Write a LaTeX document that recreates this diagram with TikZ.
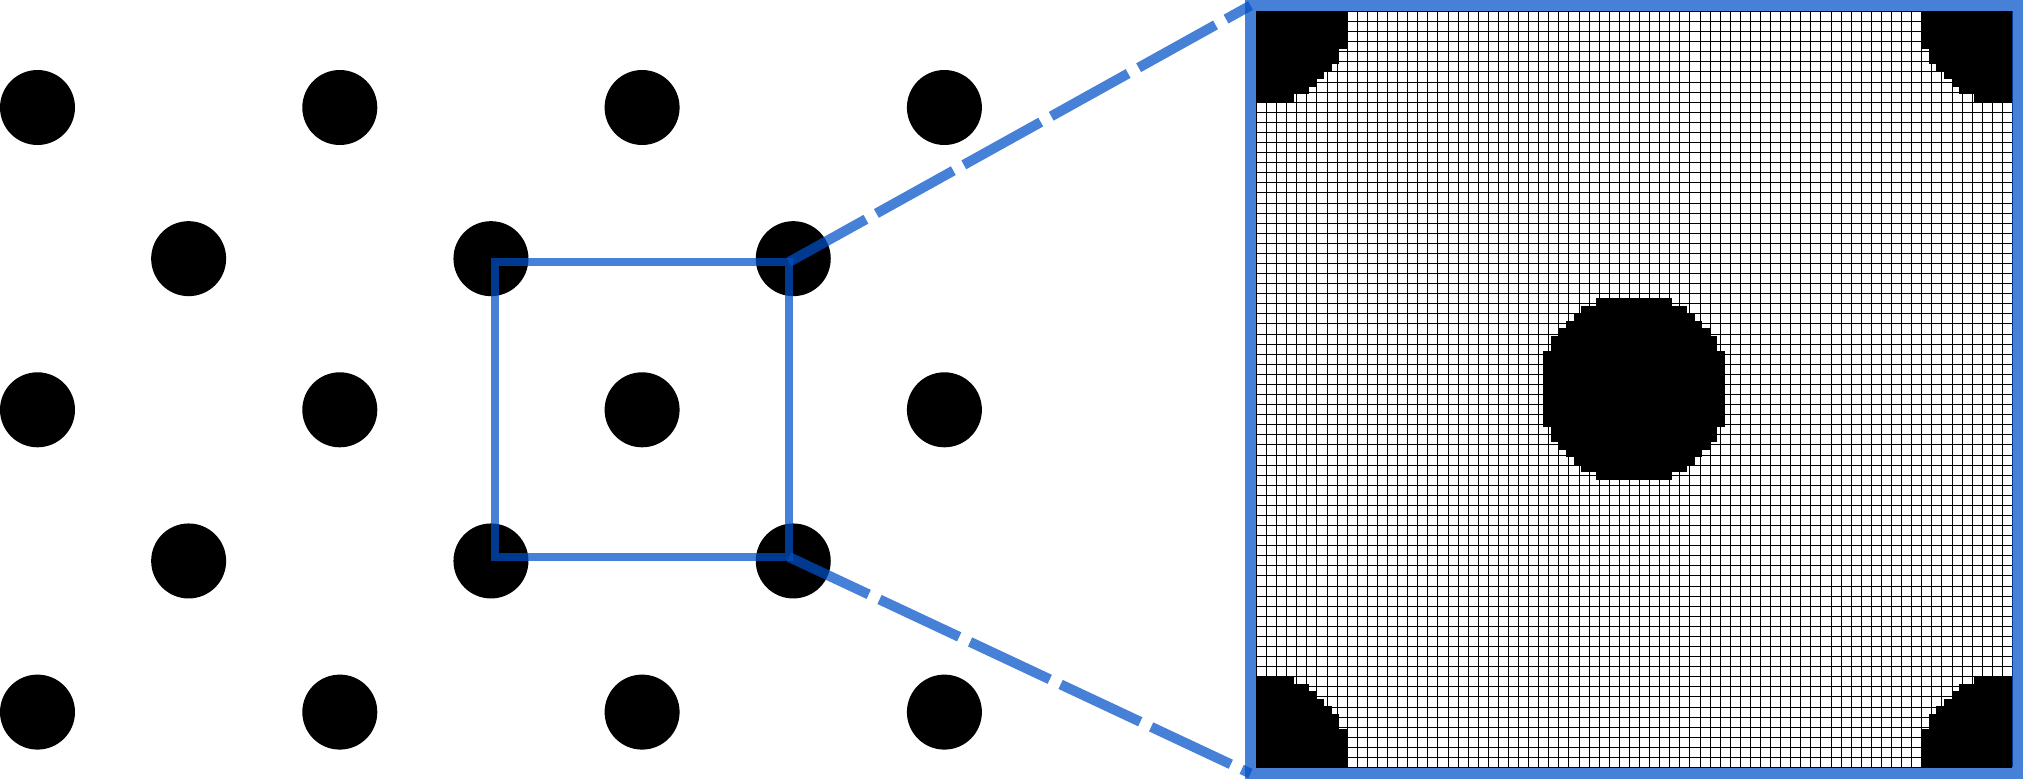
\documentclass[tikz,border=0pt]{standalone}
\definecolor{zoomblue}{RGB}{0,80,200}
\begin{document}
\begin{tikzpicture}[x=1pt,y=-1pt,
  latdot/.style={fill=black},
  bluel/.style={draw=zoomblue, draw opacity=0.72, line join=miter},
  gridline/.style={draw=black, line width=1.3pt},
  pix/.style={fill=black}]
\useasboundingbox (0,0) rectangle (2023,779);
% lattice of dots
\foreach \r in {0,2,4}
  \foreach \k in {0,...,3}
    \fill[latdot] (37.5+302.3*\k, 107.5+151.15*\r) circle[radius=37.5];
\foreach \r in {1,3}
  \foreach \k in {0,1,2}
    \fill[latdot] (188.65+302.3*\k, 107.5+151.15*\r) circle[radius=37.5];
% grid of the zoomed domain, snapped to pixel centres
\foreach \i in {0,...,75} {
  \pgfmathsetmacro\gx{1256+round(\i*10.08)+0.5}
  \pgfmathsetmacro\gy{11+round(\i*10.08)+0.5}
  \draw[gridline] (\gx,11) -- (\gx,767);
  \draw[gridline] (1256,\gy) -- (2012,\gy);
}
% black pixels
\begin{scope}[xshift=1256pt, yshift=-11pt, x=7.56pt, y=-7.56pt]
  \foreach \k/\w in {0/12,1/12,2/12,3/12,4/12,5/11,6/11,7/10,8/9,9/8,10/7,11/5} {
    \fill[pix] (50-\w, 50+\k-0.02) rectangle (50+\w, 51+\k+0.02);
    \fill[pix] (50-\w, 49-\k-0.02) rectangle (50+\w, 50-\k+0.02);
    \fill[pix] (0, \k-0.02) rectangle (\w, \k+1.02);
    \fill[pix] (100-\w, \k-0.02) rectangle (100, \k+1.02);
    \fill[pix] (0, 99-\k-0.02) rectangle (\w, 100-\k+0.02);
    \fill[pix] (100-\w, 99-\k-0.02) rectangle (100, 100-\k+0.02);
  }
\end{scope}
% named corners
\coordinate (sqTL) at (495,262);
\coordinate (sqTR) at (789,262);
\coordinate (sqBR) at (789,557);
\coordinate (frTL) at (1250.5,5.5);
\coordinate (frBL) at (1250.5,773.5);
\coordinate (frBR) at (2017.5,773.5);
% unit cell square
\draw[bluel, line width=7.3pt] (sqTL) rectangle (sqBR);
% zoom frame
\draw[bluel, line width=11pt] (frTL) rectangle (frBR);
% dashed connectors
\draw[bluel, line width=10pt, dash pattern=on 88pt off 12pt] (sqTR) -- (frTL);
\draw[bluel, line width=10pt, dash pattern=on 88pt off 12pt] (sqBR) -- (frBL);
\end{tikzpicture}
\end{document}
